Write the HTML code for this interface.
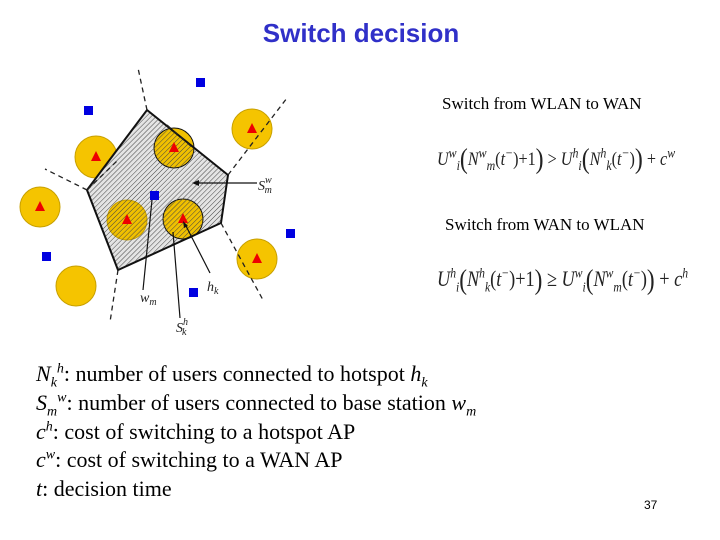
<!DOCTYPE html>
<html><head><style>
body{margin:0;width:720px;height:540px;background:#fff;position:relative;overflow:hidden;font-family:"Liberation Serif",serif}
.a{position:absolute;white-space:nowrap}
.t{font-family:"Liberation Sans",sans-serif;font-weight:bold;color:#3030c8;font-size:26px;left:0;width:722px;text-align:center;top:18px}
.f{font-style:italic;font-size:19px;color:#222;transform-origin:0 0}
.f i{font-style:normal}
.b{font-size:22px;line-height:28.8px;left:36px;top:360px;color:#000}
sup,sub{font-size:14px;line-height:0}
.big{font-size:28px;font-style:normal;vertical-align:-3px}
</style></head><body>
<div class="a t">Switch decision</div>
<svg class="a" style="left:0;top:0" width="720" height="540">
<defs><pattern id="h" width="3.5" height="3.5" patternUnits="userSpaceOnUse" patternTransform="rotate(45)"><line x1="0" y1="0" x2="0" y2="3.5" stroke="#444" stroke-width="1"/></pattern></defs>
<g fill="#f5c400" stroke="#c8a000" stroke-width="1">
<circle cx="96" cy="157" r="21"/><circle cx="40" cy="207" r="20"/><circle cx="252" cy="129" r="20"/><circle cx="257" cy="259" r="20"/><circle cx="76" cy="286" r="20"/>
</g>
<polygon points="147,110 228,175 221,223 118,270 87,190" fill="#e4e4e4"/>
<g fill="#f0c000" stroke="#111" stroke-width="1">
<circle cx="174" cy="148" r="20"/><circle cx="127" cy="220" r="20" stroke="#c8a000"/><circle cx="183" cy="219" r="20"/>
</g>
<polygon points="147,110 228,175 221,223 118,270 87,190" fill="url(#h)" stroke="#111" stroke-width="2"/>
<g fill="none" stroke="#222" stroke-dasharray="5,4" stroke-width="1.3">
<line x1="147" y1="110" x2="138" y2="68"/><line x1="228" y1="175" x2="287" y2="98"/><line x1="87" y1="190" x2="45" y2="169"/><line x1="118" y1="270" x2="110" y2="322"/><line x1="221" y1="223" x2="263" y2="300"/><line x1="87" y1="190" x2="118" y2="160"/><line x1="167" y1="125" x2="193" y2="148"/>
</g>
<g fill="#e00">
<polygon points="96,151 101,161 91,161"/><polygon points="40,201 45,211 35,211"/><polygon points="252,123 257,133 247,133"/><polygon points="257,253 262,263 252,263"/><polygon points="174,142 179,152 169,152"/><polygon points="127,214 132,224 122,224"/><polygon points="183,213 188,223 178,223"/>
</g>
<g fill="#0000e0">
<rect x="84" y="106" width="9" height="9"/><rect x="196" y="78" width="9" height="9"/><rect x="150" y="191" width="9" height="9"/><rect x="42" y="252" width="9" height="9"/><rect x="189" y="288" width="9" height="9"/><rect x="286" y="229" width="9" height="9"/>
</g>
<g stroke="#111" stroke-width="1.2" fill="none">
<line x1="257" y1="183" x2="194" y2="183"/><line x1="143" y1="290" x2="152" y2="200"/><line x1="180" y1="318" x2="173" y2="232"/><line x1="210" y1="273" x2="185" y2="224"/>
</g>
<g fill="#111"><polygon points="192,183 199,180 199,186"/><polygon points="183,221 188,226 184,228"/></g>
<g font-family="Liberation Serif,serif" font-style="italic" font-size="14" fill="#222">
<text x="258" y="190">S<tspan font-size="10" dy="-7">w</tspan><tspan font-size="10" dx="-7" dy="10">m</tspan></text>
<text x="140" y="302">w<tspan font-size="10" dy="3">m</tspan></text>
<text x="207" y="291">h<tspan font-size="10" dy="3">k</tspan></text>
<text x="176" y="332">S<tspan font-size="10" dy="-7">h</tspan><tspan font-size="10" dx="-6" dy="10">k</tspan></text>
</g>
</svg>
<div class="a" style="left:442px;top:94px;font-size:17px">Switch from WLAN to WAN</div>
<div class="a f" style="left:437px;top:144px;transform:scaleX(0.85)">U<sup>w</sup><sub>i</sub><span class="big">(</span>N<sup>w</sup><sub>m</sub><i>(</i>t<sup>−</sup><i>)+1</i><span class="big">)</span><i> &gt; </i>U<sup>h</sup><sub>i</sub><span class="big">(</span>N<sup>h</sup><sub>k</sub><i>(</i>t<sup>−</sup><i>)</i><span class="big">)</span><i> + </i>c<sup>w</sup></div>
<div class="a" style="left:445px;top:215px;font-size:17px">Switch from WAN to WLAN</div>
<div class="a f" style="left:437px;top:265px;font-size:22px;transform:scaleX(0.83)">U<sup>h</sup><sub>i</sub><span class="big">(</span>N<sup>h</sup><sub>k</sub><i>(</i>t<sup>−</sup><i>)+1</i><span class="big">)</span><i> ≥ </i>U<sup>w</sup><sub>i</sub><span class="big">(</span>N<sup>w</sup><sub>m</sub><i>(</i>t<sup>−</sup><i>)</i><span class="big">)</span><i> + </i>c<sup>h</sup></div>
<div class="a b">
<div><i>N<sub>k</sub><sup>h</sup></i>: number of users connected to hotspot <i>h<sub>k</sub></i></div>
<div><i>S<sub>m</sub><sup>w</sup></i>: number of users connected to base station <i>w<sub>m</sub></i></div>
<div><i>c<sup>h</sup></i>: cost of switching to a hotspot AP</div>
<div><i>c<sup>w</sup></i>: cost of switching to a WAN AP</div>
<div><i>t</i>: decision time</div>
</div>
<div class="a" style="left:644px;top:498px;font-family:'Liberation Sans',sans-serif;font-size:12px">37</div>
</body></html>
